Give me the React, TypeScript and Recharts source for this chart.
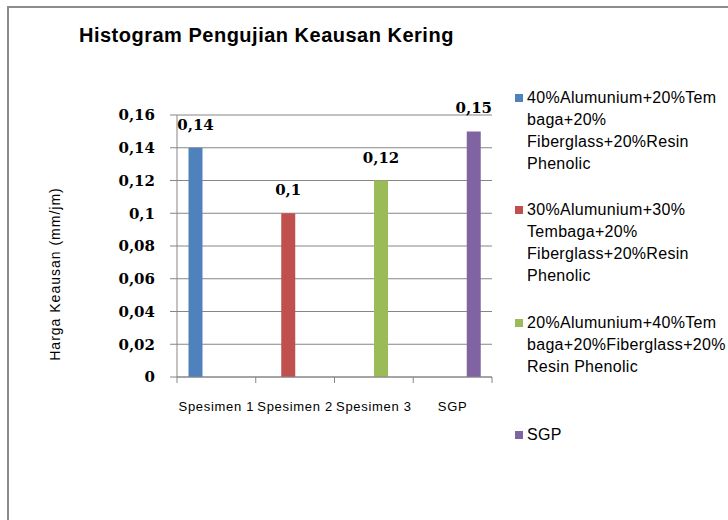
import React from 'react';
import { BarChart, Bar, XAxis, YAxis, CartesianGrid, LabelList, Legend } from 'recharts';

const chartTitle = 'Histogram Pengujian Keausan Kering';
const yAxisTitle = 'Harga Keausan (mm/jm)';
const categories = ['Spesimen 1', 'Spesimen 2', 'Spesimen 3', 'SGP'];
const seriesKeys = ['s1', 's2', 's3', 's4'];
const seriesNames = [
  '40%Alumunium+20%Tembaga+20% Fiberglass+20%Resin Phenolic',
  '30%Alumunium+30% Tembaga+20% Fiberglass+20%Resin Phenolic',
  '20%Alumunium+40%Tembaga+20%Fiberglass+20% Resin Phenolic',
  'SGP',
];
const legendLines = [
  ['40%Alumunium+20%Tem', 'baga+20%', 'Fiberglass+20%Resin', 'Phenolic'],
  ['30%Alumunium+30%', 'Tembaga+20%', 'Fiberglass+20%Resin', 'Phenolic'],
  ['20%Alumunium+40%Tem', 'baga+20%Fiberglass+20%', 'Resin Phenolic'],
  ['SGP'],
];
const seriesColors = ['#4F81BD', '#C0504D', '#9BBB59', '#8064A2'];
const series1 = [0.14, null, null, null];
const series2 = [null, 0.1, null, null];
const series3 = [null, null, 0.12, null];
const series4 = [null, null, null, 0.15];
const yTicks = [0, 0.02, 0.04, 0.06, 0.08, 0.1, 0.12, 0.14, 0.16];

const allSeries = [series1, series2, series3, series4];
const data = categories.map((name, i) => {
  const row: Record<string, any> = { name };
  seriesKeys.forEach((k, s) => {
    row[k] = allSeries[s][i];
  });
  return row;
});

const fmt = (v: any) => (v === null || v === undefined ? '' : String(v).replace('.', ','));

const GRAY = '#868686';
const X_AXIS_HEIGHT = 1;
const X_TICK_SIZE = 6;
const X_TICK_MARGIN = 19;

const CategoryTick = (props: any) => {
  const { x, y, payload, index, visibleTicksCount } = props;
  const half = payload && payload.offset ? payload.offset : 0;
  const lineTop = y - X_TICK_MARGIN - X_TICK_SIZE;
  const lineBottom = y - X_TICK_MARGIN;
  return (
    <g>
      <line x1={x - half} x2={x - half} y1={lineTop} y2={lineBottom} stroke={GRAY} />
      {index === visibleTicksCount - 1 ? (
        <line x1={x + half} x2={x + half} y1={lineTop} y2={lineBottom} stroke={GRAY} />
      ) : null}
      <text
        x={x}
        y={y}
        dy="0.71em"
        textAnchor="middle"
        fill="#000"
        style={{ fontSize: 13, fontFamily: '"Liberation Sans", Arial, sans-serif', letterSpacing: 0.7 }}
      >
        {payload.value}
      </text>
    </g>
  );
};

const LegendContent = () => (
  <div
    style={{
      position: 'relative',
      width: 206,
      height: 370,
      fontFamily: '"Liberation Sans", Arial, sans-serif',
      fontSize: 16,
      letterSpacing: 0.3,
      color: '#000',
    }}
  >
    {legendLines.map((lines, i) => (
      <div key={i} style={{ position: 'absolute', left: 0, top: i * 112.3 }}>
        <div
          style={{
            position: 'absolute',
            left: 0,
            top: 7,
            width: 8,
            height: 8,
            background: seriesColors[i],
          }}
        />
        <div style={{ position: 'absolute', left: 12, top: 0, lineHeight: '22px', whiteSpace: 'nowrap' }}>
          {lines.map((l, j) => (
            <div key={j}>{l}</div>
          ))}
        </div>
      </div>
    ))}
  </div>
);

export default function App() {
  return (
    <div
      style={{
        position: 'fixed',
        left: 0,
        top: 0,
        width: 728,
        height: 520,
        overflow: 'hidden',
        background: '#fff',
      }}
    >
      <div
        style={{
          position: 'absolute',
          left: 7,
          top: 6,
          width: 760,
          height: 560,
          border: '2px solid #8c8c8c',
        }}
      />
      <div
        style={{
          position: 'absolute',
          left: 79,
          top: 24,
          fontFamily: '"Liberation Sans", Arial, sans-serif',
          fontSize: 20,
          fontWeight: 'bold',
          letterSpacing: 0.5,
          whiteSpace: 'nowrap',
          color: '#000',
        }}
      >
        {chartTitle}
      </div>
      <div
        style={{
          position: 'absolute',
          left: 55,
          top: 274,
          transform: 'translate(-50%, -50%) rotate(-90deg)',
          fontFamily: '"Liberation Sans", Arial, sans-serif',
          fontSize: 14,
          letterSpacing: 1,
          whiteSpace: 'nowrap',
          color: '#000',
        }}
      >
        {yAxisTitle}
      </div>
      <div style={{ position: 'absolute', left: 0, top: 0 }}>
        <BarChart
          width={728}
          height={520}
          data={data}
          margin={{ top: 115, right: 30, bottom: 143 - X_AXIS_HEIGHT, left: 117 }}
          barCategoryGap="14.6%"
          barGap={0}
        >
          <CartesianGrid vertical={false} stroke={GRAY} />
          <XAxis
            dataKey="name"
            height={X_AXIS_HEIGHT}
            interval={0}
            tickLine={false}
            tickSize={X_TICK_SIZE}
            tickMargin={X_TICK_MARGIN}
            axisLine={{ stroke: GRAY }}
            tick={<CategoryTick />}
          />
          <YAxis
            domain={[0, 0.16]}
            ticks={yTicks}
            interval={0}
            tickFormatter={fmt}
            width={60}
            tickSize={7}
            tickMargin={15}
            axisLine={{ stroke: GRAY }}
            tickLine={{ stroke: GRAY }}
            tick={{ fontFamily: '"DejaVu Serif", serif', fontSize: 15, fontWeight: 'bold', fill: '#000' }}
          />
          <Legend
            layout="vertical"
            align="right"
            verticalAlign="middle"
            content={<LegendContent />}
            wrapperStyle={{ left: 515, top: 87, right: 'auto', width: 206, height: 370 }}
          />
          {seriesKeys.map((k, i) => (
            <Bar key={k} dataKey={k} name={seriesNames[i]} fill={seriesColors[i]} isAnimationActive={false}>
              <LabelList
                dataKey={k}
                position="top"
                offset={18}
                formatter={fmt}
                style={{ fontFamily: '"DejaVu Serif", serif', fontSize: 15, fontWeight: 'bold', fill: '#000' }}
              />
            </Bar>
          ))}
        </BarChart>
      </div>
    </div>
  );
}
